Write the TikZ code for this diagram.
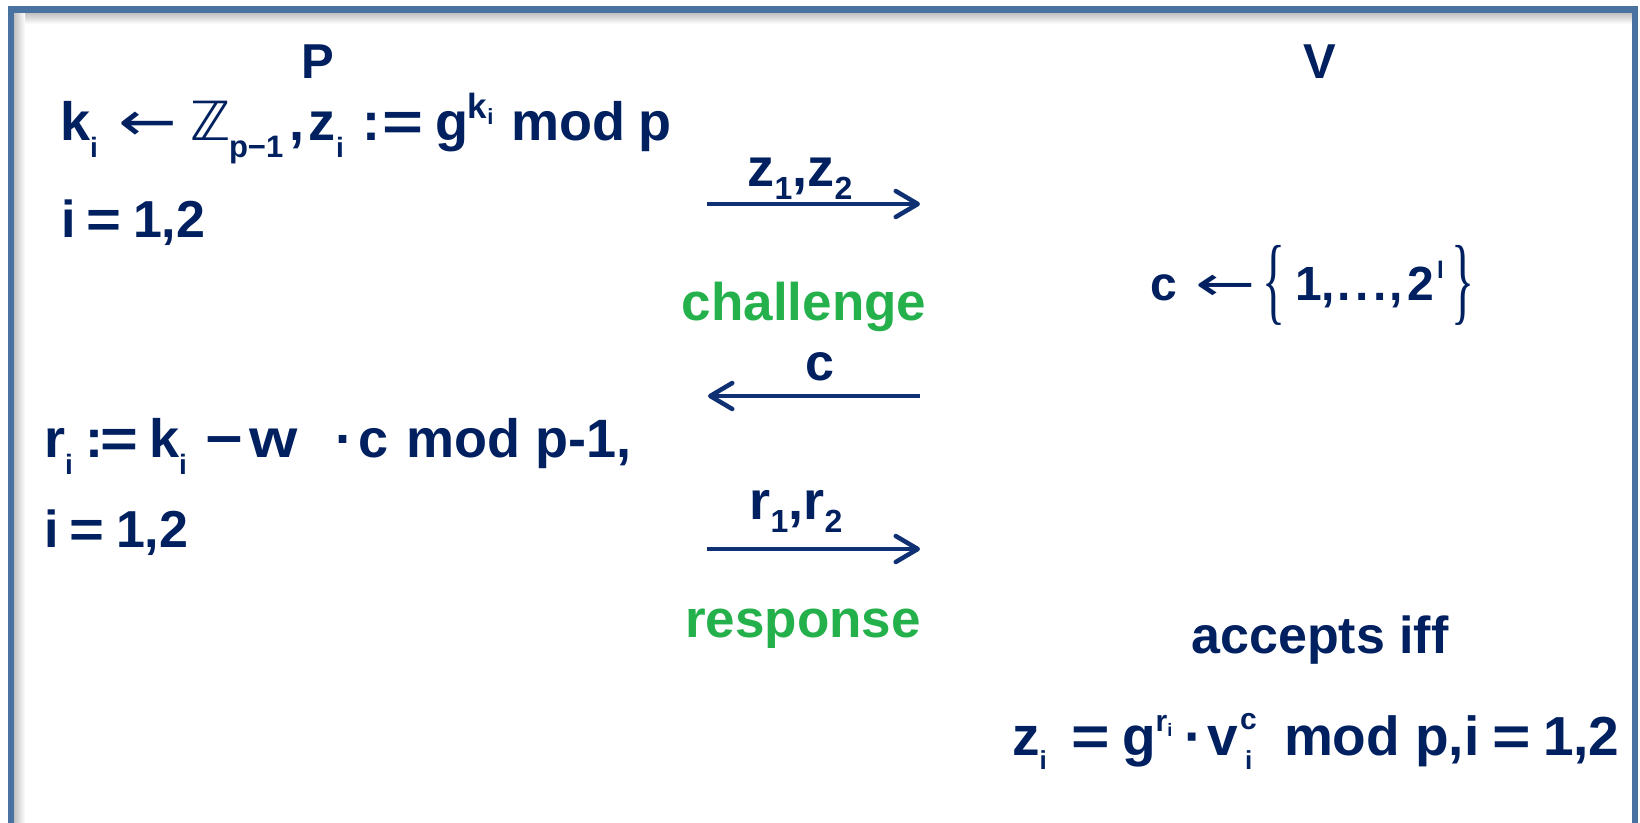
\documentclass[tikz,border=0pt]{standalone}
\usepackage{graphicx}
\usepackage{fontspec}
\setmainfont{Liberation Sans}
\newfontfamily\dv{DejaVu Sans}
\newfontfamily\lsr{Liberation Serif}
\usetikzlibrary{arrows.meta}
\definecolor{navy}{RGB}{0,32,96}
\definecolor{arrowblue}{RGB}{15,48,115}
\definecolor{grn}{RGB}{36,177,75}
\definecolor{frameblue}{RGB}{74,114,160}
\newcommand\fs[1]{\fontsize{#1}{#1}\selectfont\bfseries}
\newcommand\shift[3]{\raisebox{#1}{\fontsize{#2}{#2}\selectfont\bfseries #3}}
\newcommand\larr{{\mdseries\dv ←}}
\newcommand\pc[2]{\makebox[#1][l]{#2}}
\newcommand\brc[1]{\raisebox{-25pt}{\resizebox{23pt}{80pt}{\raisebox{\depth}{\mdseries\lsr #1}}}}
\tikzset{
  txt/.style={inner sep=0pt, outer sep=0pt, text=navy, anchor=base west},
  ctxt/.style={inner sep=0pt, outer sep=0pt, text=navy, anchor=base},
  gtxt/.style={inner sep=0pt, outer sep=0pt, text=grn, anchor=base},
  msg/.style={draw=arrowblue, line width=4.5pt, -{Straight Barb[length=22pt,width=26pt,round]}},
}
\begin{document}
\begin{tikzpicture}[x=1pt,y=-1pt]
\useasboundingbox (0,0) rectangle (1640,822);
\fill[white] (0,0) rectangle (1640,822);
% inner shadow
\shade[top color=black!25, bottom color=white] (14,13) rectangle (1632,24);
\shade[left color=black!25, right color=white] (14,13) rectangle (25,822);
% frame
\begin{scope}
\clip (0,0) rectangle (1640,822);
\draw[frameblue, line width=6.5pt] (11,840) -- (11,9.5) -- (1635,9.5) -- (1635,840);
\end{scope}

% headers
\node[ctxt] (P) at (318,78) {\fs{49}P};
\node[ctxt] (V) at (1320,78) {\fs{49}V};

% prover side
\node[txt] (l1) at (60,140) {\fs{54}%
\pc{58pt}{k\shift{-17pt}{28}{i}}%
\pc{72pt}{\scalebox{1.3}[1]{\larr}}%
\pc{39pt}{{\mdseries\dv ℤ}}%
\pc{60pt}{\shift{-17pt}{31}{p−1}}%
\pc{20pt}{,}%
\pc{53pt}{z\shift{-17pt}{28}{i}}%
\pc{73pt}{:\hspace{3pt}\scalebox{1.3}[1]{=}}%
\pc{76pt}{g\shift{22pt}{35}{k\shift{-6pt}{22}{i}}}%
\pc{127pt}{mod}p};
\node[txt] (l2) at (61,237) {\fs{52}%
\pc{25pt}{i}\pc{47pt}{\scalebox{1.15}[1]{=}}1,2};
\node[txt] (l3) at (44,457) {\fs{54}%
\pc{41pt}{r\shift{-17pt}{28}{i}}%
\pc{15pt}{:}%
\pc{49pt}{\scalebox{1.2}[1]{=}}%
\pc{56pt}{k\shift{-17pt}{28}{i}}%
\pc{44pt}{\scalebox{1.2}[1]{−}}%
\pc{86pt}{\scalebox{1.15}[1]{w}}%
\pc{24pt}{\textperiodcentered}%
\pc{48pt}{c}mod p-1,};
\node[txt] (l4) at (44,547) {\fs{52}%
\pc{25pt}{i}\pc{47pt}{\scalebox{1.15}[1]{=}}1,2};

% verifier side
\node[txt] (v1) at (1150,300) {\fs{48}%
\pc{45pt}{c}%
\pc{67pt}{\scalebox{1.5}[1]{\larr}}%
\pc{33pt}{\brc{\{}}%
\pc{27pt}{1}%
\pc{15pt}{,}%
\pc{52pt}{.\hspace{5pt}.\hspace{5pt}.}%
\pc{18pt}{,}%
\pc{30pt}{2}%
\pc{14pt}{\shift{22pt}{24}{l}}%
\brc{\}}};
\node[ctxt] (acc) at (1320,653) {\fs{52}accepts iff};
\node[txt] (v2) at (1012,755) {\fs{55}%
\pc{59pt}{z\shift{-14pt}{26}{i}}%
\pc{51pt}{\scalebox{1.2}[1]{=}}%
\pc{62pt}{g\shift{24pt}{30}{r\shift{-5pt}{18}{i}}}%
\pc{23pt}{\textperiodcentered}%
\pc{33pt}{v}%
\pc{44pt}{\rlap{\shift{26pt}{30}{c}}\hspace{5pt}\shift{-14pt}{26}{i}}%
\pc{208pt}{mod p,i}%
\pc{51pt}{\scalebox{1.2}[1]{=}}%
1,2};

% messages
\coordinate (a1s) at (707,204); \coordinate (a1e) at (920,204);
\coordinate (a2s) at (920,396); \coordinate (a2e) at (708,396);
\coordinate (a3s) at (707,549); \coordinate (a3e) at (920,549);
\draw[msg] (a1s) -- (a1e);
\draw[msg] (a2s) -- (a2e);
\draw[msg] (a3s) -- (a3e);
\node[ctxt] (z12) at (800,186) {\fs{54}z\shift{-13pt}{32}{1},z\shift{-13pt}{32}{2}};
\node[ctxt] (clab) at (820,380) {\fs{52}c};
\node[ctxt] (r12) at (796,519) {\fs{54}r\shift{-13pt}{32}{1},r\shift{-13pt}{32}{2}};
\node[gtxt] (ch) at (804,320) {\fs{53}challenge};
\node[gtxt] (resp) at (803,637) {\fs{53}response};
\end{tikzpicture}
\end{document}
